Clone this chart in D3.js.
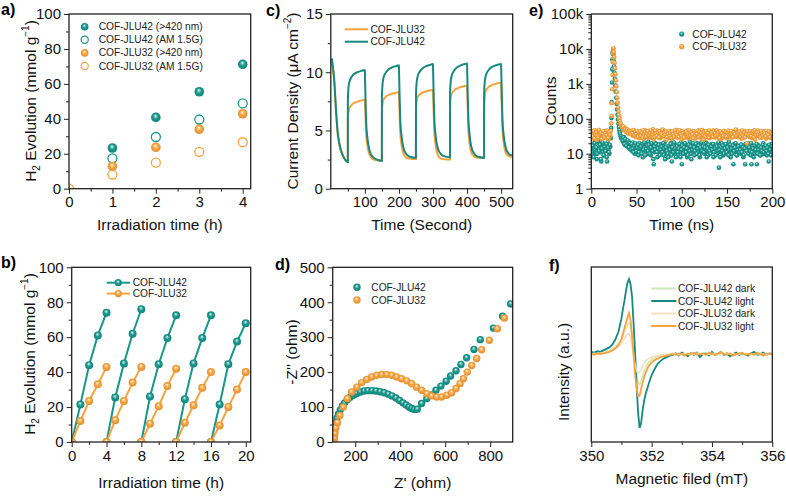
<!DOCTYPE html>
<html><head><meta charset="utf-8">
<script src="https://cdn.jsdelivr.net/npm/d3@7"></script>
<style>body{margin:0;background:#fff}svg{display:block;font-family:"Liberation Sans",Arial,sans-serif}</style>
</head><body><svg id="c" width="786" height="499"></svg>
<script>
const TEAL = "#17968a", ORANGE = "#f7a23c", TEAL_LINE = "#16897e";
const PALE_GREEN = "#cde8bd", PALE_ORANGE = "#f7dfbd";

// ---------- panel a ----------
const aTime = [0, 1, 2, 3, 4];
const a42Vis = [null, 23.3, 40.8, 55.5, 71.2];
const a42AM = [null, 17.4, 29.6, 39.6, 48.8];
const a32Vis = [null, 12.8, 23.7, 34.0, 42.9];
const a32AM = [0, 8.1, 14.9, 21.1, 26.6];
const aLegend = ["COF-JLU42 (>420 nm)", "COF-JLU42 (AM 1.5G)", "COF-JLU32 (>420 nm)", "COF-JLU32 (AM 1.5G)"];

// ---------- panel b ----------
const bCycleStart = [0, 4, 8, 12, 16];
const bHour = [0, 1, 2, 3, 4];
const b42 = [[0, 21.5, 44, 61, 74], [0, 25.5, 45, 62, 76], [0, 26, 44.5, 59.5, 72.5], [0, 24.5, 45, 59.5, 72.5], [0, 21.5, 44.5, 57.5, 68]];
const b32 = [[0, 12, 23.5, 33, 43], [0, 12.5, 23.5, 34, 43], [0, 10.5, 20.5, 32, 42], [0, 11, 21, 31, 40], [0, 9.5, 20, 30, 40]];

// ---------- panel c ----------
const cTime = [3, 6, 10, 15, 20, 25, 30, 40, 49.9,
  50.1, 52, 55, 60, 65, 70, 80, 90, 99.9, 100.1, 102, 104, 107, 110, 115, 120, 125, 135, 149.9,
  150.1, 152, 155, 160, 165, 170, 180, 190, 199.9, 200.1, 202, 204, 207, 210, 215, 220, 225, 235, 249.9,
  250.1, 252, 255, 260, 265, 270, 280, 290, 299.9, 300.1, 302, 304, 307, 310, 315, 320, 325, 335, 349.9,
  350.1, 352, 355, 360, 365, 370, 380, 390, 399.9, 400.1, 402, 404, 407, 410, 415, 420, 425, 435, 449.9,
  450.1, 452, 455, 460, 465, 470, 480, 490, 499.9, 500.1, 502, 504, 507, 510, 515, 520, 525, 535];
const c42 = [11.2, 10.5, 9.4, 6.9, 4.9, 3.9, 3.3, 2.6, 2.3,
  7.6, 8.7, 9.2, 9.55, 9.75, 9.88, 10.02, 10.12, 10.2, 10.0, 7.6, 5.6, 4.5, 3.8, 3.15, 2.85, 2.68, 2.5, 2.4,
  8.0, 9.0, 9.55, 9.9, 10.1, 10.25, 10.42, 10.52, 10.6, 10.4, 7.9, 5.8, 4.7, 4.0, 3.35, 3.05, 2.88, 2.72, 2.65,
  8.1, 9.1, 9.65, 10.0, 10.2, 10.35, 10.52, 10.62, 10.7, 10.5, 8.0, 5.9, 4.75, 4.05, 3.4, 3.1, 2.92, 2.78, 2.7,
  8.2, 9.2, 9.7, 10.05, 10.25, 10.4, 10.57, 10.68, 10.75, 10.55, 8.0, 5.9, 4.75, 4.0, 3.35, 3.05, 2.88, 2.72, 2.65,
  8.2, 9.2, 9.7, 10.05, 10.25, 10.4, 10.55, 10.65, 10.7, 10.5, 8.0, 5.9, 4.75, 4.05, 3.4, 3.1, 2.92, 2.85];
const c32 = [11.0, 10.3, 9.2, 6.8, 4.8, 3.8, 3.2, 2.55, 2.3,
  6.0, 6.6, 6.95, 7.15, 7.3, 7.38, 7.5, 7.58, 7.65, 7.5, 6.0, 4.6, 3.8, 3.3, 2.85, 2.62, 2.52, 2.44, 2.4,
  6.6, 7.3, 7.65, 7.85, 7.98, 8.05, 8.15, 8.22, 8.3, 8.1, 6.4, 4.8, 3.9, 3.35, 2.9, 2.7, 2.62, 2.57, 2.55,
  6.8, 7.5, 7.85, 8.05, 8.18, 8.26, 8.36, 8.43, 8.48, 8.3, 6.5, 4.85, 3.9, 3.3, 2.85, 2.65, 2.57, 2.52, 2.5,
  7.0, 7.8, 8.15, 8.38, 8.52, 8.6, 8.72, 8.8, 8.85, 8.6, 6.8, 5.0, 4.0, 3.4, 2.95, 2.78, 2.7, 2.66, 2.65,
  7.2, 8.0, 8.4, 8.62, 8.77, 8.86, 8.97, 9.05, 9.1, 8.9, 7.0, 5.1, 4.1, 3.45, 3.0, 2.83, 2.77, 2.75];

// ---------- panel d ----------
const d42Re = [104,105,107,110,114,119,126,134,143,153,165,178,192,207,223,240,257,275,293,311,329,347,364,381,397,412,426,439,451,463,476,495,518,540,559,581,604,624,648,670,695,728,756,814,855,891];
const d42Im = [3,15,28,42,55,68,80,92,103,112,121,128,134,139,143,146,147,147,146,144,141,137,132,126,119,112,106,100,96,93,94,110,124,135,148,160,174,189,204,222,241,265,293,326,360,395];
const d32Re = [106,108,110,114,121,132,147,165,184,207,229,251,273,295,318,340,362,384,406,429,451,473,495,518,540,562,584,607,629,648,666,681,698,718,740,762,796,832,863];
const d32Im = [0,12,25,40,55,76,100,124,143,157,170,179,186,191,193,193,191,186,181,175,167,157,148,138,132,129,129,134,141,153,167,181,200,219,239,264,291,324,355];

// ---------- panel e (counts at whole ns, at half ns, and around the pulse) ----------
const e42Pre = [14,9,18,12,22,10,7,16,13,20,11,6,15,19,9,12,17,8,21,13,10,16];
const e42PreHalf = [11,17,8,20,13,15,10,23,12,18,7,14,21,9,16,12,19,6,15,11,18];
const e42Peak = [[21.6,28],[22,55],[22.3,105],[22.6,300],[22.9,1100],[23.1,2600],[23.3,5000],[23.6,7500],[23.9,8500],[24.2,7000],[24.6,4600],[25,3200],[25.5,2100],[26,1400],[26.5,900],[27,600],[27.5,400],[28,270],[28.5,185],[29,130],[29.5,95],[30,72],[30.5,58],[31,47],[31.5,40],[32,35],[32.5,31],[33,28]];
const e42Post = [27,22,30,18,25,20,16,23,14,19, 17,12,21,15,10,18,13,16,9,20, 14,11,17,8,13,19,12,15,10,22,
  12,16,9,14,18,5,11,20,13,8, 15,12,19,10,14,17,9,21,13,11, 16,8,14,12,20,6,13,17,10,15,
  12,18,9,14,11,21,5,13,16,10, 19,12,8,15,13,22,10,14,17,11, 9,16,13,20,12,15,8,18,11,14,
  17,10,13,21,12,9,16,14,11,19, 13,8,15,12,18,10,14,4,16,11, 20,13,9,15,12,17,10,14,22,12,
  8,16,13,5,19,11,14,9,17,12, 15,10,18,13,8,14,5,16,12,20, 11,14,9,5,17,13,10,15,12,5,
  18,11,14,9,16,12,20,10,13,15, 9,17,6,12,14,19,11];
const e42PostHalf = [24,29,19,26,17,21,24,15,20,13, 19,14,11,17,20,12,15,18,11,14, 16,10,19,13,21,9,14,17,12,18,
  10,15,20,12,7,16,13,19,11,14, 18,9,13,16,11,20,14,7,15,12, 10,17,13,19,9,15,11,21,14,8,
  16,11,14,19,8,13,17,10,15,20, 11,14,9,18,12,16,7,13,20,15, 12,19,10,14,17,9,15,21,12,16,
  11,15,20,8,14,18,12,10,16,13, 19,11,14,9,16,12,21,13,8,15, 12,17,10,14,19,11,15,9,13,18,
  14,10,17,12,15,20,9,13,16,11, 13,18,11,15,9,14,19,12,16,10, 15,12,20,11,14,8,17,13,19,10,
  13,16,9,15,12,18,11,14,17,12, 15,10,18,13,9,16];
const e32Pre = [36,28,41,33,47,30,25,38,44,31,35,27,42,34,39,29,45,32,37,26,40,33];
const e32PreHalf = [39,31,45,27,36,42,33,29,48,35,40,26,37,44,30,38,34,46,28,41,35];
const e32Peak = [[21.6,45],[22,75],[22.4,120],[22.7,280],[23,700],[23.3,1800],[23.6,4200],[23.9,7500],[24.2,10000],[24.5,10500],[24.9,8200],[25.3,5800],[25.7,4000],[26.1,2800],[26.6,1900],[27.1,1250],[27.6,850],[28.1,580],[28.6,400],[29.1,290],[29.6,210],[30.1,160],[30.6,125],[31.1,102],[31.6,86],[32.1,76],[32.6,68],[33.1,62]];
const e32Post = [58,52,48,55,44,50,41,47,39,45, 36,42,33,46,38,30,43,35,40,28, 37,45,32,39,27,48,34,41,30,36,
  44,29,38,33,50,26,40,35,31,46, 34,39,28,43,36,31,47,33,38,25, 41,35,30,45,37,27,42,34,39,32,
  48,29,36,40,33,44,26,38,35,42, 31,37,46,28,40,34,39,30,45,33, 38,27,42,35,31,47,36,29,41,34,
  25,39,33,44,30,37,42,28,35,40, 32,46,36,29,38,34,43,31,37,26, 41,35,30,45,33,39,28,36,42,32,
  37,29,44,34,38,31,47,35,30,40, 33,42,27,37,35,45,31,39,20,36, 43,30,38,34,28,41,35,25,39,33,
  46,36,31,40,29,37,44,32,38,27, 41,35,30,43,36,28,39];
const e32PostHalf = [55,60,46,51,42,49,38,45,43,36, 44,39,48,34,41,37,45,31,39,43, 33,40,29,46,36,42,31,38,44,34,
  39,47,32,36,42,30,45,37,33,41, 29,44,38,35,49,32,40,36,43,30, 37,45,33,40,28,43,36,31,46,38,
  34,41,30,47,37,32,44,39,29,40, 43,35,38,31,46,33,41,36,28,44, 33,40,37,45,30,42,34,39,48,35,
  41,31,44,36,39,29,46,34,40,37, 30,43,38,33,47,35,41,28,44,36, 39,32,45,37,42,31,40,46,34,38,
  44,35,30,41,36,49,33,39,37,43, 31,38,46,34,40,29,42,36,44,33, 37,45,32,39,43,30,47,36,34,41,
  35,40,29,44,38,33,42,37,31,45, 38,34,43,30,40,36];
const eTickLabels = ["1", "10", "100", "1k", "10k", "100k"];

// ---------- panel f ----------
const fField = [350.0,350.1,350.2,350.3,350.4,350.5,350.6,350.7,350.8,350.9,351.0,
  351.05,351.1,351.15,351.2,351.25,351.3,351.35,351.4,351.45,351.5,351.55,351.6,351.65,351.7,351.75,351.8,
  351.9,352.0,352.1,352.2,352.3,352.4,352.5,352.6,352.7,352.8,352.9,353.0,353.1,353.2,353.3,353.4,353.5,353.6,353.7,353.8,
  353.9,354.0,354.1,354.2,354.3,354.4,354.5,354.6,354.7,354.8,354.9,355.0,355.1,355.2,355.3,355.4,355.5,355.6,355.7,355.8,355.9,356.0];
const f42Dark = [1,0,2,1,3,4,5,7,10,14,20,
  25,30,35,39,42,38,24,5,-14,-29,-38,-41,-36,-29,-23,-18,
  -11,-7,-5,-3,-2,-1,-1,0,1,0, -1,1,0,-1,0,1,0,-1,1,0, 0,-1,1,0,-1,1,0,0,-1,1, 0,0,1,-1,0,1,0,-1,0,1, 0,0];
const f42Light = [3,2,4,3,5,7,9,13,20,30,48,
  61,72,85,96,101,94,78,43,3,-40,-78,-99,-93,-76,-63,-54,
  -40,-28,-20,-13,-9,-6,-4,-2,-1,1, -2,2,0,-3,1,-1,2,-4,0,1, -2,3,-1,0,2,-1,1,-3,0,2, -1,1,0,-2,1,3,-1,0,2,-1, 1,0];
const f32Dark = [0,1,0,1,2,3,4,5,7,10,14,
  17,21,24,27,28,23,12,-2,-14,-22,-26,-25,-21,-16,-12,-9,
  -6,-4,-3,-2,-1,-1,0,0,1,0, -1,0,1,0,-1,0,1,1,0,-1, 0,1,0,-1,0,1,0,0,1,-1, 0,1,0,0,-1,0,1,0,0,-1, 0,1];
const f32Light = [0,-1,1,0,1,2,3,5,8,12,20,
  28,35,42,49,55,46,26,0,-27,-45,-56,-56,-47,-38,-31,-25,
  -16,-11,-8,-6,-4,-3,-2,-1,0,-1, 1,0,-2,1,0,2,-1,0,1,-1, 2,0,-1,1,3,0,-1,1,-2,0, 1,2,-1,0,1,-1,2,0,-2,1, 0,1];
const fLegend = ["COF-JLU42 dark", "COF-JLU42 light", "COF-JLU32 dark", "COF-JLU32 light"];

// ================= drawing =================
const FONT = '"Liberation Sans", Arial, sans-serif';
const svg = d3.select("#c");
const defs = svg.append("defs");
function sphere(id, c) {
  const g = defs.append("radialGradient").attr("id", id)
    .attr("cx", "50%").attr("cy", "50%").attr("r", "55%").attr("fx", "45%").attr("fy", "32%");
  g.append("stop").attr("offset", "0%").attr("stop-color", "#ffffff");
  g.append("stop").attr("offset", "22%").attr("stop-color", d3.interpolateRgb("#ffffff", c)(0.55));
  g.append("stop").attr("offset", "50%").attr("stop-color", c);
  g.append("stop").attr("offset", "100%").attr("stop-color", d3.color(c).darker(0.35).formatHex());
}
sphere("gT", TEAL); sphere("gO", ORANGE);

let clipN = 0;
function panel(box, xs, ys, o) {
  const g = svg.append("g");
  const cid = "clip" + (clipN++);
  defs.append("clipPath").attr("id", cid).append("rect")
    .attr("x", box.l).attr("y", box.t).attr("width", box.r - box.l).attr("height", box.b - box.t);
  const data = g.append("g").attr("clip-path", `url(#${cid})`);
  const ax = g.append("g");
  const style = s => {
    s.select(".domain").remove();
    s.attr("font-family", FONT).attr("font-size", 15);
    s.selectAll("line").attr("stroke", "#222").attr("stroke-width", 1);
    s.selectAll("text").attr("fill", "#111");
  };
  if (o.xMinor) ax.append("g").attr("transform", `translate(0,${box.b})`)
    .call(d3.axisBottom(xs).tickValues(o.xMinor).tickSize(3).tickFormat("")).call(style);
  ax.append("g").attr("transform", `translate(0,${box.b})`)
    .call(d3.axisBottom(xs).tickValues(o.xMajor).tickSize(5).tickPadding(3).tickFormat(o.xFmt || (d => d))).call(style);
  if (o.yMinor) ax.append("g").attr("transform", `translate(${box.l},0)`)
    .call(d3.axisLeft(ys).tickValues(o.yMinor).tickSize(3).tickFormat("")).call(style);
  if (o.yMajor) ax.append("g").attr("transform", `translate(${box.l},0)`)
    .call(d3.axisLeft(ys).tickValues(o.yMajor).tickSize(5).tickPadding(3).tickFormat(o.yFmt || (d => d))).call(style);
  ax.append("rect").attr("x", box.l).attr("y", box.t).attr("width", box.r - box.l).attr("height", box.b - box.t)
    .attr("fill", "none").attr("stroke", "#222").attr("stroke-width", 1.3);
  ax.append("text").attr("x", (box.l + box.r) / 2).attr("y", o.xTitleY).attr("text-anchor", "middle")
    .attr("font-family", FONT).attr("font-size", 15.5).attr("fill", "#111").text(o.xTitle);
  const yt = ax.append("text").attr("transform", `translate(${o.yTitleX},${o.yTitleC}) rotate(-90)`)
    .attr("text-anchor", "middle").attr("font-family", FONT).attr("font-size", 15.5).attr("fill", "#111");
  o.yTitle.forEach(p => {
    const t = yt.append("tspan").text(p.t);
    if (p.sub) t.attr("font-size", 10).attr("dy", 4);
    if (p.sup) t.attr("font-size", 10).attr("dy", -7);
    if (p.back) t.attr("dy", p.back);
  });
  g.append("text").attr("x", o.lab[0]).attr("y", o.lab[1]).attr("font-family", FONT).attr("font-weight", "bold")
    .attr("font-size", 16).attr("fill", "#000").text(o.lab[2]);
  return data;
}
function legendText(g, x, y, s) {
  g.append("text").attr("x", x).attr("y", y).attr("dy", "0.35em").attr("font-family", FONT)
    .attr("font-size", 10.2).attr("fill", "#222").text(s);
}
const h2Title = [{t: "H"}, {t: "2", sub: true}, {t: " Evolution (mmol g", back: -4}, {t: "−1", sup: true}, {t: ")", back: 7}];

// ---------- panel a ----------
{
  const box = {l: 69, r: 250.7, t: 14, b: 188.7};
  const x = d3.scaleLinear().domain([0, 4.184]).range([box.l, box.r]);
  const y = d3.scaleLinear().domain([0, 100]).range([box.b, box.t]);
  const d = panel(box, x, y, {xMajor: [0, 1, 2, 3, 4], xMinor: [0.5, 1.5, 2.5, 3.5], yMajor: [0, 20, 40, 60, 80, 100], yMinor: [10, 30, 50, 70, 90],
    xTitle: "Irradiation time (h)", xTitleY: 230, yTitle: h2Title, yTitleX: 36, yTitleC: 101, lab: [1, 15, "a)"]});
  const series = [[a42Vis, TEAL, true], [a42AM, TEAL, false], [a32Vis, ORANGE, true], [a32AM, ORANGE, false]];
  series.forEach(([vals, c, filled]) => {
    const pts = aTime.map((t, i) => [t, vals[i]]).filter(p => p[1] !== null);
    d.selectAll(null).data(pts).enter().append("circle")
      .attr("cx", p => x(p[0])).attr("cy", p => y(p[1])).attr("r", filled ? 4.8 : 4.5)
      .attr("fill", filled ? (c === TEAL ? "url(#gT)" : "url(#gO)") : "none")
      .attr("stroke", filled ? "none" : c).attr("stroke-width", 1.3);
  });
  const lg = svg.append("g");
  series.forEach(([vals, c, filled], i) => {
    const yy = 26.7 + i * 13.1;
    lg.append("circle").attr("cx", 84.7).attr("cy", yy).attr("r", filled ? 3.8 : 3.6)
      .attr("fill", filled ? (c === TEAL ? "url(#gT)" : "url(#gO)") : "none")
      .attr("stroke", filled ? "none" : c).attr("stroke-width", 1.2);
    legendText(lg, 98.7, yy, aLegend[i]);
  });
}

// ---------- panel b ----------
{
  const box = {l: 71.7, r: 250.7, t: 267.3, b: 442};
  const x = d3.scaleLinear().domain([0, 20.57]).range([box.l, box.r]);
  const y = d3.scaleLinear().domain([0, 100]).range([box.b, box.t]);
  const d = panel(box, x, y, {xMajor: [0, 4, 8, 12, 16, 20], xMinor: [2, 6, 10, 14, 18], yMajor: [0, 20, 40, 60, 80, 100], yMinor: [10, 30, 50, 70, 90],
    xTitle: "Irradiation time (h)", xTitleY: 488, yTitle: h2Title, yTitleX: 35, yTitleC: 354, lab: [1, 268, "b)"]});
  const line = d3.line().x(p => x(p[0])).y(p => y(p[1]));
  [[b42, TEAL, "url(#gT)"], [b32, ORANGE, "url(#gO)"]].forEach(([cyc, c, gr]) => {
    cyc.forEach((vals, k) => {
      const pts = bHour.map((h, i) => [bCycleStart[k] + h, vals[i]]);
      d.append("path").attr("d", line(pts)).attr("fill", "none").attr("stroke", c).attr("stroke-width", 2);
      d.selectAll(null).data(pts).enter().append("circle").attr("cx", p => x(p[0])).attr("cy", p => y(p[1])).attr("r", 4).attr("fill", gr);
    });
  });
  const lg = svg.append("g");
  [["COF-JLU42", TEAL, "url(#gT)", 282.7], ["COF-JLU32", ORANGE, "url(#gO)", 293.6]].forEach(([s, c, gr, yy]) => {
    lg.append("line").attr("x1", 106.7).attr("x2", 130).attr("y1", yy).attr("y2", yy).attr("stroke", c).attr("stroke-width", 2);
    lg.append("circle").attr("cx", 118.3).attr("cy", yy).attr("r", 3.6).attr("fill", gr);
    legendText(lg, 132.7, yy, s);
  });
}

// ---------- panel c ----------
{
  const box = {l: 330.8, r: 512.7, t: 14, b: 188.7};
  const x = d3.scaleLinear().domain([0, 534]).range([box.l, box.r]);
  const y = d3.scaleLinear().domain([0, 15]).range([box.b, box.t]);
  const d = panel(box, x, y, {xMajor: [100, 200, 300, 400, 500], xMinor: [50, 150, 250, 350, 450], yMajor: [0, 5, 10, 15], yMinor: [2.5, 7.5, 12.5],
    xTitle: "Time (Second)", xTitleY: 230,
    yTitle: [{t: "Current Density (μA cm", back: 0}, {t: "−2", sup: true}, {t: ")", back: 7}], yTitleX: 298, yTitleC: 101, lab: [266, 16, "c)"]});
  const line = d3.line().x((t, i) => x(t)).curve(d3.curveMonotoneX);
  d.append("path").attr("d", line.y((t, i) => y(c32[i]))(cTime)).attr("fill", "none").attr("stroke", ORANGE).attr("stroke-width", 2);
  d.append("path").attr("d", line.y((t, i) => y(c42[i]))(cTime)).attr("fill", "none").attr("stroke", TEAL_LINE).attr("stroke-width", 2);
  const lg = svg.append("g");
  [["COF-JLU32", ORANGE, 29.3], ["COF-JLU42", TEAL_LINE, 41.7]].forEach(([s, c, yy]) => {
    lg.append("line").attr("x1", 344.7).attr("x2", 368).attr("y1", yy).attr("y2", yy).attr("stroke", c).attr("stroke-width", 2);
    legendText(lg, 370.5, yy, s);
  });
}

// ---------- panel d ----------
{
  const box = {l: 332.7, r: 512.7, t: 267.3, b: 442};
  const x = d3.scaleLinear().domain([100, 900]).range([box.l, box.r]);
  const y = d3.scaleLinear().domain([0, 500]).range([box.b, box.t]);
  const d = panel(box, x, y, {xMajor: [200, 400, 600, 800], xMinor: [300, 500, 700], yMajor: [0, 100, 200, 300, 400, 500], yMinor: [50, 150, 250, 350, 450],
    xTitle: "Z' (ohm)", xTitleY: 488, yTitle: [{t: "-Z'' (ohm)"}], yTitleX: 297, yTitleC: 352, lab: [275, 270, "d)"]});
  [[d42Re, d42Im, "url(#gT)"], [d32Re, d32Im, "url(#gO)"]].forEach(([re, im, gr]) => {
    d.selectAll(null).data(re).enter().append("circle").attr("cx", v => x(v)).attr("cy", (v, i) => y(im[i])).attr("r", 3.7).attr("fill", gr);
  });
  const lg = svg.append("g");
  [["COF-JLU42", "url(#gT)", 287.3], ["COF-JLU32", "url(#gO)", 300]].forEach(([s, gr, yy]) => {
    lg.append("circle").attr("cx", 357).attr("cy", yy).attr("r", 3.7).attr("fill", gr);
    legendText(lg, 371.3, yy, s);
  });
}

// ---------- panel e ----------
{
  const box = {l: 591.3, r: 772.3, t: 14, b: 188.7};
  const x = d3.scaleLinear().domain([0, 200]).range([box.l, box.r]);
  const y = d3.scaleLog().domain([1, 1e5]).range([box.b, box.t]);
  const decades = [1, 10, 100, 1000, 10000, 100000];
  const minors = [];
  decades.slice(0, 5).forEach(dd => [2, 3, 4, 5, 6, 7, 8, 9].forEach(m => minors.push(dd * m)));
  const d = panel(box, x, y, {xMajor: [0, 50, 100, 150, 200], xMinor: [25, 75, 125, 175], yMajor: decades, yMinor: minors,
    yFmt: (v, i) => eTickLabels[i], xTitle: "Time (ns)", xTitleY: 230, yTitle: [{t: "Counts"}], yTitleX: 556, yTitleC: 101, lab: [529, 16, "e)"]});
  const build = (pre, preHalf, peak, post, postHalf) => {
    const pts = [];
    pre.forEach((v, i) => pts.push([i, v]));
    preHalf.forEach((v, i) => pts.push([i + 0.5, v]));
    peak.forEach(p => pts.push(p));
    post.forEach((v, i) => pts.push([34 + i, v]));
    postHalf.forEach((v, i) => pts.push([34.5 + i, v]));
    return pts;
  };
  [[build(e42Pre, e42PreHalf, e42Peak, e42Post, e42PostHalf), "url(#gT)"],
   [build(e32Pre, e32PreHalf, e32Peak, e32Post, e32PostHalf), "url(#gO)"]].forEach(([pts, gr]) => {
    d.selectAll(null).data(pts).enter().append("circle").attr("cx", p => x(p[0])).attr("cy", p => y(p[1])).attr("r", 2.3).attr("fill", gr);
  });
  const lg = svg.append("g");
  [["COF-JLU42", "url(#gT)", 34], ["COF-JLU32", "url(#gO)", 46.7]].forEach(([s, gr, yy]) => {
    lg.append("circle").attr("cx", 681.7).attr("cy", yy).attr("r", 2.6).attr("fill", gr);
    legendText(lg, 692.3, yy, s);
  });
}

// ---------- panel f ----------
{
  const box = {l: 591.3, r: 772.3, t: 267, b: 442};
  const x = d3.scaleLinear().domain([350, 356]).range([box.l, box.r]);
  const y = d3.scaleLinear().domain([-118, 117]).range([box.b, box.t]);
  const d = panel(box, x, y, {xMajor: [350, 352, 354, 356], xMinor: [351, 353, 355],
    xTitle: "Magnetic filed (mT)", xTitleY: 484, yTitle: [{t: "Intensity (a.u.)"}], yTitleX: 569, yTitleC: 372, lab: [549, 271, "f)"]});
  const line = d3.line().x((f) => x(f));
  const curves = [[f42Dark, PALE_GREEN, 1.6], [f42Light, TEAL_LINE, 1.8], [f32Dark, PALE_ORANGE, 1.6], [f32Light, ORANGE, 1.8]];
  curves.forEach(([vals, c, w]) => {
    d.append("path").attr("d", line.y((f, i) => y(vals[i]))(fField)).attr("fill", "none").attr("stroke", c).attr("stroke-width", w);
  });
  const lg = svg.append("g");
  curves.forEach(([vals, c, w], i) => {
    const yy = 288.5 + i * 12.5;
    lg.append("line").attr("x1", 651.3).attr("x2", 676.3).attr("y1", yy).attr("y2", yy).attr("stroke", c).attr("stroke-width", 2);
    legendText(lg, 678, yy, fLegend[i]);
  });
}
</script>
</body></html>
